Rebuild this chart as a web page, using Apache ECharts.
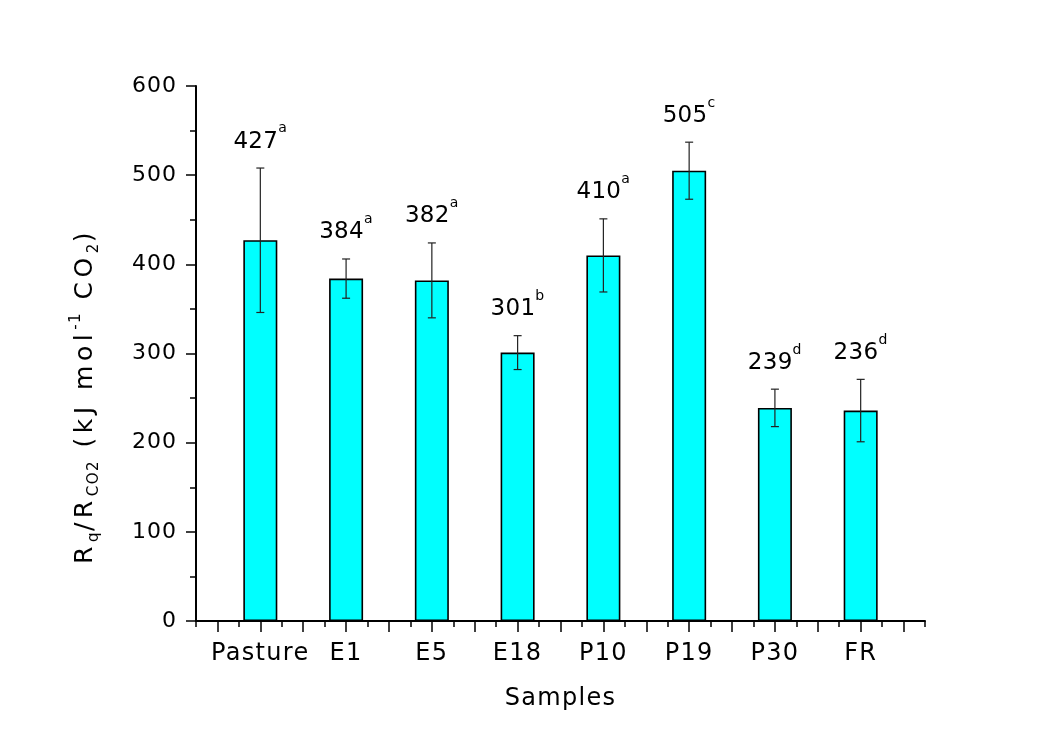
<!DOCTYPE html>
<html>
<head>
<meta charset="utf-8">
<title>Rq/RCO2 by sample</title>
<script src="https://cdn.jsdelivr.net/npm/echarts@6/dist/echarts.min.js"></script>
<style>
  html, body { margin: 0; padding: 0; background: #ffffff; }
  #chart { width: 1057px; height: 738px; }
</style>
</head>
<body>
<div id="chart"></div>
<script>
// Samples and measured quotient (mean, error, significance letter)
const samples = ['Pasture', 'E1', 'E5', 'E18', 'P10', 'P19', 'P30', 'FR'];
const values  = [427, 384, 382, 301, 410, 505, 239, 236];
const errors  = [81, 22, 42, 19, 41, 32, 21, 35];
const letters = ['a', 'a', 'a', 'b', 'a', 'c', 'd', 'd'];

// Axis ticks
const yTicks = [0, 100, 200, 300, 400, 500, 600];
const xMajorTicks = [0.5, 1, 1.5, 2, 2.5, 3, 3.5, 4, 4.5, 5, 5.5, 6, 6.5, 7, 7.5, 8, 8.5];
const xMinorTicks = [0.25, 0.75, 1.25, 1.75, 2.25, 2.75, 3.25, 3.75, 4.25, 4.75,
                     5.25, 5.75, 6.25, 6.75, 7.25, 7.75, 8.25, 8.75];
const xLabelTicks = [1, 2, 3, 4, 5, 6, 7, 8];

// Extra tracking for the text, keyed by font size in px
const TRACKING_PX = { 14: 0.5, 15: 1.5, 22: 1, 23: 0.3, 24: 1.3, 25: 4.5 };
(function () {
  const proto = CanvasRenderingContext2D.prototype;
  const desc = Object.getOwnPropertyDescriptor(proto, 'font');
  if (!desc || !desc.set || !('letterSpacing' in proto)) return;
  Object.defineProperty(proto, 'font', {
    configurable: true,
    enumerable: desc.enumerable,
    get: desc.get,
    set(value) {
      desc.set.call(this, value);
      const m = /(\d+(?:\.\d+)?)px/.exec(value);
      const size = m ? Math.round(parseFloat(m[1])) : 0;
      try { this.letterSpacing = (TRACKING_PX[size] || 0) + 'px'; } catch (e) {}
    }
  });
})();

const FONT = "'DejaVu Sans', Arial, sans-serif";
const gridRect = { left: 196, right: 132, top: 86, bottom: 117 };

const barData = values.map((v, i) => [i + 1, v]);
const errData = values.map((v, i) => [i + 1, v, errors[i]]);
const labelData = values.map((v, i) => ({
  value: [i + 1, v + errors[i]],
  letter: letters[i],
  mean: v
}));

const chart = echarts.init(document.getElementById('chart'), null, { renderer: 'canvas' });

chart.setOption({
  backgroundColor: '#ffffff',
  animation: false,
  grid: [
    Object.assign({}, gridRect),
    Object.assign({}, gridRect)
  ],
  xAxis: [
    {
      type: 'value',
      gridIndex: 0,
      min: 0.25,
      max: 8.75,
      name: 'Samples',
      nameLocation: 'middle',
      nameGap: 64,
      nameTextStyle: { fontFamily: FONT, fontSize: 24, color: '#000', lineHeight: 28 },
      axisLine: { show: true, onZero: false, lineStyle: { color: '#000', width: 2 } },
      axisTick: {
        show: true, length: 11, customValues: xMajorTicks,
        lineStyle: { color: '#000', width: 1.5 }
      },
      axisLabel: {
        show: true,
        customValues: xLabelTicks,
        margin: 19,
        fontFamily: FONT, fontSize: 24, color: '#000', lineHeight: 28,
        formatter: (v) => samples[Math.round(v) - 1] || ''
      },
      splitLine: { show: false },
      minorTick: { show: false }
    },
    {
      type: 'value',
      gridIndex: 1,
      min: 0.25,
      max: 8.75,
      axisLine: { show: false },
      axisTick: {
        show: true, length: 6, customValues: xMinorTicks,
        lineStyle: { color: '#000', width: 1.5 }
      },
      axisLabel: { show: false },
      splitLine: { show: false }
    }
  ],
  yAxis: [
    {
      type: 'value',
      gridIndex: 0,
      min: 0,
      max: 600,
      interval: 100,
      name: '{m|R}{sb|q}{m|/R}{sb|CO2}{m| (kJ mol}{sp|-1}{m| CO}{sb|2}{m|)}',
      nameLocation: 'middle',
      nameGap: 94,
      nameRotate: 90,
      nameTextStyle: {
        fontFamily: FONT, fontSize: 25, color: '#000',
        padding: [0, 85, 0, 0],
        rich: {
          m:  { fontFamily: FONT, fontSize: 25, color: '#000', lineHeight: 34 },
          sb: { fontFamily: FONT, fontSize: 15, color: '#000', lineHeight: 14, verticalAlign: 'bottom' },
          sp: { fontFamily: FONT, fontSize: 15, color: '#000', lineHeight: 21, verticalAlign: 'top' }
        }
      },
      axisLine: { show: true, onZero: false, lineStyle: { color: '#000', width: 2 } },
      axisTick: { show: true, length: 10, lineStyle: { color: '#000', width: 1.5 } },
      minorTick: { show: true, splitNumber: 2, length: 6, lineStyle: { color: '#000', width: 1.5 } },
      axisLabel: {
        margin: 19,
        fontFamily: FONT, fontSize: 22, color: '#000',
        formatter: (v) => (yTicks.indexOf(v) >= 0 ? String(v) : '')
      },
      splitLine: { show: false }
    },
    {
      type: 'value',
      gridIndex: 1,
      min: 0,
      max: 600,
      show: false
    }
  ],
  series: [
    {
      name: 'Rq/RCO2',
      type: 'bar',
      xAxisIndex: 0,
      yAxisIndex: 0,
      data: barData,
      barWidth: 34,
      itemStyle: { color: '#00ffff', borderColor: '#000', borderWidth: 1.6 },
      z: 2
    },
    {
      name: 'error',
      type: 'custom',
      xAxisIndex: 0,
      yAxisIndex: 0,
      data: errData,
      encode: { x: 0, y: 1 },
      z: 3,
      renderItem: function (params, api) {
        const x = api.value(0);
        const v = api.value(1);
        const e = api.value(2);
        const top = api.coord([x, v + e]);
        const bot = api.coord([x, v - e]);
        const cap = 4;
        const style = { stroke: '#222', lineWidth: 1.2 };
        return {
          type: 'group',
          children: [
            { type: 'line', shape: { x1: top[0], y1: top[1], x2: bot[0], y2: bot[1] }, style: style },
            { type: 'line', shape: { x1: top[0] - cap, y1: top[1], x2: top[0] + cap, y2: top[1] }, style: style },
            { type: 'line', shape: { x1: bot[0] - cap, y1: bot[1], x2: bot[0] + cap, y2: bot[1] }, style: style }
          ]
        };
      }
    },
    {
      name: 'labels',
      type: 'scatter',
      xAxisIndex: 0,
      yAxisIndex: 0,
      data: labelData,
      symbolSize: 1,
      itemStyle: { color: 'rgba(0,0,0,0)' },
      silent: true,
      z: 4,
      label: {
        show: true,
        position: 'top',
        distance: 6,
        color: '#000',
        opacity: 1,
        textBorderWidth: 0,
        formatter: (p) => '{m|' + p.data.mean + '}{s|' + p.data.letter + '}',
        rich: {
          m: { fontFamily: FONT, fontSize: 23, color: '#000', lineHeight: 40 },
          s: { fontFamily: FONT, fontSize: 14, color: '#000', lineHeight: 2, verticalAlign: 'top' }
        }
      }
    }
  ]
});
</script>
</body>
</html>
